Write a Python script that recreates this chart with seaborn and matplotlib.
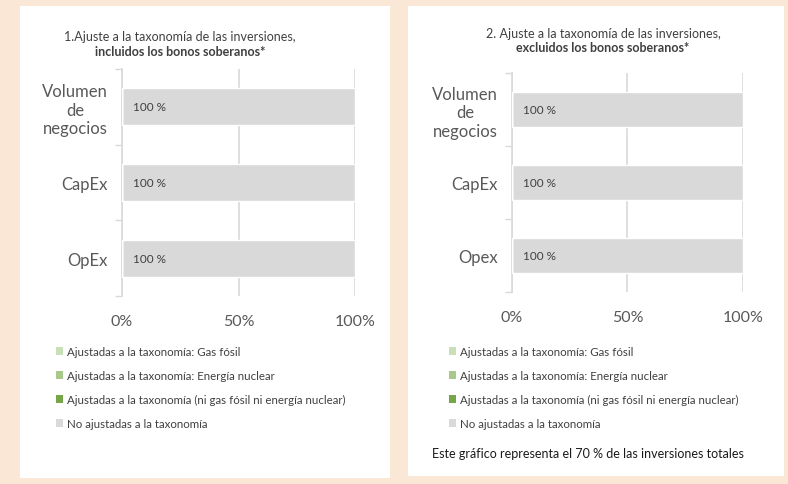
import matplotlib
matplotlib.use("Agg")
import matplotlib.pyplot as plt
from matplotlib.patches import Patch, Rectangle
import pandas as pd
import seaborn as sns

# datos de los dos gráficos
categorias_1 = ["Volumen\nde\nnegocios", "CapEx", "OpEx"]
categorias_2 = ["Volumen\nde\nnegocios", "CapEx", "Opex"]
series = [
    "Ajustadas a la taxonomía: Gas fósil",
    "Ajustadas a la taxonomía: Energía nuclear",
    "Ajustadas a la taxonomía (ni gas fósil ni energía nuclear)",
    "No ajustadas a la taxonomía",
]
colores = ["#c9dfb8", "#a9c98a", "#76a548", "#d9d9d9"]
valores_1 = {series[0]: [0, 0, 0], series[1]: [0, 0, 0], series[2]: [0, 0, 0], series[3]: [100, 100, 100]}
valores_2 = {series[0]: [0, 0, 0], series[1]: [0, 0, 0], series[2]: [0, 0, 0], series[3]: [100, 100, 100]}
titulo_1 = ("1.Ajuste a la taxonomía de las inversiones,", "incluidos los bonos soberanos*")
titulo_2 = ("2. Ajuste a la taxonomía de las inversiones,", "excluidos los bonos soberanos*")
nota_2 = "Este gráfico representa el 70 % de las inversiones totales"

sns.set_theme(style="white")
plt.rcParams["font.family"] = ["Lato", "DejaVu Sans"]

W, H = 788, 485
fig = plt.figure(figsize=(W / 100, H / 100), dpi=100)
fig.patch.set_facecolor("#fbe7d6")

# paneles blancos
for x0, y0, x1, y1 in [(20, 7, 390, 479), (408, 7, 784, 477)]:
    fig.patches.append(Rectangle((x0 / W, 1 - y1 / H), (x1 - x0) / W, (y1 - y0) / H,
                                 transform=fig.transFigure, facecolor="white",
                                 edgecolor="none", zorder=-5))


def dibujar(ax, categorias, valores):
    df = pd.DataFrame(valores)
    df["cat"] = categorias
    # barras apiladas: se dibuja el acumulado de mayor a menor
    acumulado = df[series].cumsum(axis=1)
    for s, c in reversed(list(zip(series, colores))):
        sns.barplot(x=acumulado[s], y=df["cat"], color=c, width=0.49, ax=ax,
                    orient="h", saturation=1, zorder=3)
    ax.set_xlim(0, 100)
    ax.set_ylim(2.5, -0.5)
    ax.set_xlabel("")
    ax.set_ylabel("")
    ax.set_facecolor("none")
    ax.set_xticks([0, 50, 100])
    ax.set_xticklabels(["0%", "50%", "100%"])
    ax.tick_params(axis="x", length=0, pad=13, labelsize=11.5, labelcolor="#595959")
    ax.tick_params(axis="y", which="major", length=0, pad=10, labelsize=12, labelcolor="#595959")
    ax.set_yticks([-0.5, 0.5, 1.5, 2.5], minor=True)
    ax.tick_params(axis="y", which="minor", left=True, length=5, width=1,
                   color="#d9d9d9", direction="out")
    for t in ax.get_yticklabels():
        t.set_multialignment("center")
    ax.grid(axis="x", color="#d9d9d9", linewidth=1.2, zorder=0)
    for sp in ["top", "right", "bottom"]:
        ax.spines[sp].set_visible(False)
    ax.spines["left"].set_color("#d9d9d9")
    ax.spines["left"].set_linewidth(1.2)
    for i, v in enumerate(acumulado[series[-1]]):
        ax.annotate(f"{df[series[-1]][i]:.0f} %", xy=(0, i), xytext=(8, 0),
                    textcoords="offset points", va="center", ha="left",
                    fontsize=8.5, color="#404040", zorder=5)


def titulo(xc, y1, y2, lineas):
    fig.text(xc / W, 1 - y1 / H, lineas[0], ha="center", va="center", fontsize=9, color="#404040")
    fig.text(xc / W, 1 - y2 / H, lineas[1], ha="center", va="center", fontsize=9,
             color="#404040", fontweight="bold")


def leyenda(x, y):
    handles = [Patch(facecolor=c, edgecolor="none", label=s) for s, c in zip(series, colores)]
    fig.legend(handles=handles, loc="upper left", bbox_to_anchor=(x / W, 1 - y / H),
               frameon=False, fontsize=8.3, labelcolor="#404040", handlelength=0.65,
               handleheight=0.65, handletextpad=0.3, labelspacing=1.12, borderpad=0,
               borderaxespad=0)


ax1 = fig.add_axes([122 / W, 1 - 297 / H, 233 / W, 227 / H])
dibujar(ax1, categorias_1, valores_1)
ax2 = fig.add_axes([512 / W, 1 - 293 / H, 231 / W, 219 / H])
dibujar(ax2, categorias_2, valores_2)

titulo(180, 37, 52, titulo_1)
titulo(603, 34, 48, titulo_2)
leyenda(56, 347)
leyenda(449, 347)
fig.text(432 / W, 1 - 454 / H, nota_2, ha="left", va="center", fontsize=9, color="#1a1a1a")

fig.savefig("out.png", dpi=100, facecolor=fig.get_facecolor())
